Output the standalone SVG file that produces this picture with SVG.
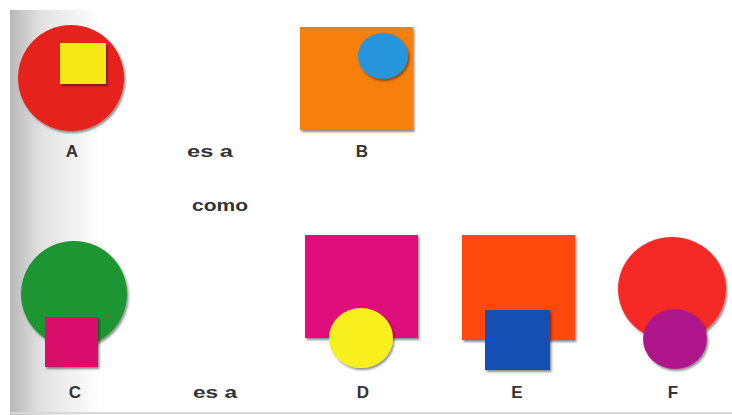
<svg xmlns="http://www.w3.org/2000/svg" width="732" height="415" viewBox="0 0 732 415">
<defs>
<linearGradient id="strip" x1="0" y1="0" x2="1" y2="0">
<stop offset="0" stop-color="#b8b8b8"/>
<stop offset="0.35" stop-color="#e2e2e2"/>
<stop offset="1" stop-color="#ffffff"/>
</linearGradient>
<filter id="sh" x="-20%" y="-20%" width="140%" height="140%">
<feDropShadow dx="1.5" dy="2" stdDeviation="1" flood-color="#000" flood-opacity="0.45"/>
</filter>
</defs>
<style>
.lbl{font-family:"Liberation Sans","DejaVu Sans",sans-serif;font-weight:bold;font-size:17px;fill:#333;text-anchor:middle}
.shape{filter:url(#sh)}
</style>
<rect x="0" y="0" width="732" height="415" fill="#ffffff"/>
<rect x="10" y="10" width="90" height="405" fill="url(#strip)"/>
<line x1="10" y1="413" x2="732" y2="413" stroke="#d8d8d8" stroke-width="2"/>

<g id="A">
<circle class="shape" cx="71" cy="78" r="53" fill="#e5221c"/>
<rect class="shape" x="60" y="43" width="46" height="41" fill="#f6e816"/>
<text class="lbl" x="72" y="157">A</text>
</g>
<g id="B">
<rect class="shape" x="300" y="27" width="113" height="103" fill="#f7800c"/>
<ellipse class="shape" cx="383" cy="56" rx="25" ry="23" fill="#2895dc"/>
<text class="lbl" x="362" y="157">B</text>
</g>
<g id="C">
<circle class="shape" cx="74" cy="294" r="53" fill="#1e9530"/>
<rect class="shape" x="45" y="317" width="53" height="50" fill="#d8086c"/>
<text class="lbl" x="75" y="398">C</text>
</g>
<g id="D">
<rect class="shape" x="305" y="235" width="113" height="103" fill="#e0107c"/>
<ellipse class="shape" cx="361" cy="338" rx="32" ry="30" fill="#f8f01e"/>
<text class="lbl" x="363" y="398">D</text>
</g>
<g id="E">
<rect class="shape" x="462" y="235" width="113" height="105" fill="#ff4a0c"/>
<rect class="shape" x="485" y="310" width="65" height="60" fill="#1650b4"/>
<text class="lbl" x="517" y="398">E</text>
</g>
<g id="F">
<ellipse class="shape" cx="672" cy="289" rx="54" ry="52" fill="#f52a28"/>
<ellipse class="shape" cx="675" cy="339" rx="32" ry="30" fill="#b0188c"/>
<text class="lbl" x="673" y="398">F</text>
</g>

<g id="connectors"></g>

<text class="lbl" x="210" y="157" textLength="46" lengthAdjust="spacingAndGlyphs">es a</text>
<text class="lbl" x="220" y="211" textLength="56" lengthAdjust="spacingAndGlyphs">como</text>
<text class="lbl" x="215" y="398" textLength="44" lengthAdjust="spacingAndGlyphs">es a</text>
</svg>
